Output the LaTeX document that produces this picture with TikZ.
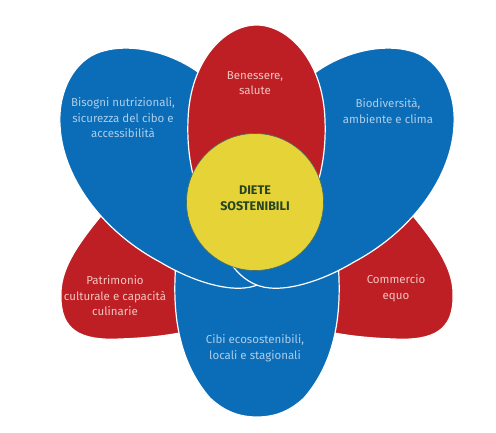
\documentclass[tikz,border=0pt]{standalone}
\usepackage{fontspec}
\setmainfont{Fira Sans}
\definecolor{pblue}{RGB}{11,109,183}
\definecolor{pred}{RGB}{189,31,36}
\definecolor{pyellow}{RGB}{229,211,56}
\definecolor{tblue}{RGB}{172,205,235}
\definecolor{tred}{RGB}{243,196,190}
\definecolor{tgreen}{RGB}{38,68,32}
\definecolor{ring}{RGB}{70,110,105}
\newcommand\LowerRedPetal{%
  \filldraw[petal,fill=pred] (110,205) .. controls (85,235) and (60,265) .. (61,295)
    .. controls (60,330) and (80,341) .. (120,339)
    .. controls (150,338) and (170,335) .. (185,332)
    -- (200,270) -- cycle;}
\newcommand\UpperBluePetal{%
  \filldraw[petal,fill=pblue] (198,72) .. controls (170,52) and (130,42) .. (100,52)
    .. controls (75,60) and (58,90) .. (60,125)
    .. controls (62,175) and (100,230) .. (160,262)
    .. controls (190,280) and (222,290) .. (244,288)
    .. controls (259,287) and (274,278) .. (284,262)
    .. controls (264,200) and (219,110) .. (198,72) -- cycle;}
\begin{document}
\begin{tikzpicture}[x=1pt,y=-1pt,
  petal/.style={draw=white,line width=1.2pt,line join=round},
  lbl/.style={align=center,inner sep=0pt,font=\fontsize{11.5}{15.5}\selectfont},
  onblue/.style={lbl,text=tblue},
  onred/.style={lbl,text=tred}]
\useasboundingbox[fill=white] (0,0) rectangle (496,432);
% lower red petals
\LowerRedPetal
\begin{scope}[shift={(514,0)},xscale=-1]
\LowerRedPetal
\end{scope}
% bottom blue petal
\filldraw[petal,fill=pblue] (176,262) .. controls (172,310) and (177,360) .. (210,398)
  .. controls (225,412) and (240,417) .. (257,417)
  .. controls (274,417) and (289,412) .. (304,398)
  .. controls (337,360) and (342,310) .. (338,262)
  .. controls (320,200) and (290,170) .. (257,160)
  .. controls (224,170) and (194,200) .. (176,262) -- cycle;
% upper blue petals
\UpperBluePetal
\begin{scope}[shift={(514,0)},xscale=-1]
\UpperBluePetal
\end{scope}
% top red petal
\filldraw[petal,fill=pred] (256.5,255) .. controls (200,230) and (186,170) .. (188,120)
  .. controls (190,60) and (225,25) .. (256.5,25)
  .. controls (288,25) and (323,60) .. (325,120)
  .. controls (327,170) and (313,230) .. (256.5,255) -- cycle;
% centre
\node[circle,fill=pyellow,draw=ring,line width=0.6pt,minimum size=137pt,inner sep=0pt] (centre) at (255,202) {};
\node[lbl,text=tgreen,font=\fontsize{12.5}{16}\selectfont\bfseries] (diete) at (255,198) {DIETE\\SOSTENIBILI};
% labels
\node[onred] (benessere) at (255,83) {Benessere,\\salute};
\node[onblue] (bisogni) at (123,118) {Bisogni nutrizionali,\\sicurezza del cibo e\\accessibilità};
\node[onblue] (biodiv) at (388,111) {Biodiversità,\\ambiente e clima};
\node[onred] (patrimonio) at (115,296) {Patrimonio\\culturale e capacità\\culinarie};
\node[onred] (commercio) at (396,288) {Commercio\\equo};
\node[onblue] (cibi) at (255,348) {Cibi ecosostenibili,\\locali e stagionali};
\end{tikzpicture}
\end{document}
